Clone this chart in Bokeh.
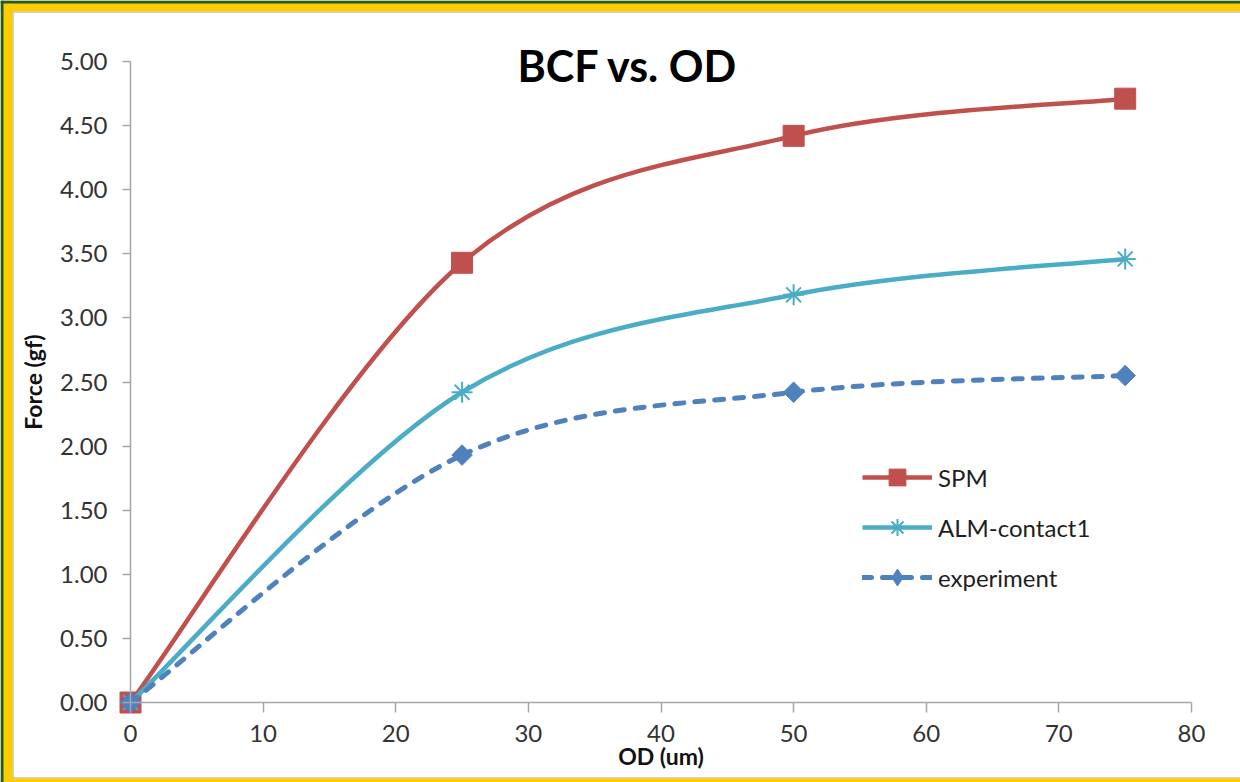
import numpy as np
from bokeh.plotting import figure
from bokeh.models import (Range1d, LinearAxis, SingleIntervalTicker, PrintfTickFormatter,
                          Label, Legend, LegendItem)
from bokeh.embed import file_html
from bokeh.resources import INLINE

# ---- data ----
od = [0, 25, 50, 75]
spm = [0.00, 3.43, 4.42, 4.71]
alm = [0.00, 2.42, 3.18, 3.46]
experiment = [0.00, 1.93, 2.42, 2.55]
series_names = ["SPM", "ALM-contact1", "experiment"]
title_text = "BCF vs. OD"
x_label = "OD (um)"
y_label = "Force (gf)"

FONT = "Lato"
TXT = "#333333"

W, H = 1240, 782
# pixel placement of the plot area (x: 0..80, y: 0..5) inside the canvas
X0PX, X80PX, Y0PX, Y5PX = 130, 1191, 702, 61
PX = (X80PX - X0PX) / 80.0
PY = (Y0PX - Y5PX) / 5.0

p = figure(width=W, height=H, output_backend="svg", toolbar_location=None,
           x_range=Range1d(-X0PX / PX, 80 + (W - X80PX) / PX),
           y_range=Range1d(-(H - Y0PX) / PY, 5 + Y5PX / PY),
           x_axis_location=None, y_axis_location=None,
           min_border_left=0, min_border_right=0, min_border_top=0, min_border_bottom=0,
           border_fill_color="white", background_fill_color="white")
p.title.visible = False
p.outline_line_color = None
p.xgrid.visible = False
p.ygrid.visible = False


def style_axis(ax):
    ax.axis_line_color = "#A6A6A6"
    ax.axis_line_width = 1.5
    ax.major_tick_line_color = "#A6A6A6"
    ax.major_tick_line_width = 1.5
    ax.major_tick_in = 0
    ax.minor_tick_line_color = None
    ax.major_label_text_font = FONT
    ax.major_label_text_font_size = "24px"
    ax.major_label_text_color = TXT
    ax.axis_label_text_font = FONT
    ax.axis_label_text_font_style = "bold"
    ax.axis_label_text_font_size = "23px"
    ax.axis_label_text_color = "#111111"


xa = LinearAxis(ticker=SingleIntervalTicker(interval=10), fixed_location=0, bounds=(0, 80),
                axis_label=x_label)
style_axis(xa)
xa.major_tick_out = 10
xa.major_label_standoff = 12
xa.axis_label_standoff = -3
p.add_layout(xa, "below")

ya = LinearAxis(ticker=SingleIntervalTicker(interval=0.5), fixed_location=0, bounds=(0, 5),
                formatter=PrintfTickFormatter(format="%.2f"), axis_label=y_label)
style_axis(ya)
ya.major_tick_out = 8
ya.major_label_standoff = 15
ya.axis_label_standoff = 10
p.add_layout(ya, "left")


def bez(xs, ys):
    xs = np.asarray(xs, float)
    ys = np.asarray(ys, float)
    n = len(xs)
    d = dict(x0=[], y0=[], x1=[], y1=[], cx0=[], cy0=[], cx1=[], cy1=[])
    for i in range(n - 1):
        pr = max(i - 1, 0)
        nx = min(i + 2, n - 1)
        d["x0"].append(xs[i]); d["y0"].append(ys[i])
        d["x1"].append(xs[i + 1]); d["y1"].append(ys[i + 1])
        d["cx0"].append(xs[i] + (xs[i + 1] - xs[pr]) / 6)
        d["cy0"].append(ys[i] + (ys[i + 1] - ys[pr]) / 6)
        d["cx1"].append(xs[i + 1] - (xs[nx] - xs[i]) / 6)
        d["cy1"].append(ys[i + 1] - (ys[nx] - ys[i]) / 6)
    return d


BZ = dict(x0="x0", y0="y0", x1="x1", y1="y1", cx0="cx0", cy0="cy0", cx1="cx1", cy1="cy1")
items = []
# SPM
c = "#C0504D"
r1 = p.bezier(source=bez(od, spm), line_color=c, line_width=4.5, **BZ)
m1 = p.scatter(od, spm, marker="square", size=21, fill_color=c, line_color=c)
items.append(LegendItem(label=series_names[0], renderers=[r1, m1]))
# ALM
c = "#4BACC6"
r2 = p.bezier(source=bez(od, alm), line_color=c, line_width=4.5, **BZ)
m2 = p.scatter(od, alm, marker="asterisk", size=21, line_color=c, line_width=2)
items.append(LegendItem(label=series_names[1], renderers=[r2, m2]))
# experiment
c = "#4F81BD"
r3 = p.bezier(source=bez(od, experiment), line_color=c, line_width=5,
              line_dash="9 11", line_cap="round", **BZ)
# diamond swatch used for the legend; it sits under the rotated square at the first point
m3_leg = p.scatter(od[:1], experiment[:1], marker="diamond", size=16, fill_color=c,
                   line_color=c)
m3 = p.scatter(od, experiment, marker="square", angle=np.pi / 4, size=14.5, fill_color=c,
               line_color=c)
items.append(LegendItem(label=series_names[2], renderers=[r3, m3_leg]))

leg = Legend(items=items, location=(862, 184), padding=0, margin=0, spacing=8,
             glyph_width=70, glyph_height=42, label_height=42, label_standoff=6,
             border_line_color=None, background_fill_alpha=0,
             label_text_font=FONT, label_text_font_size="24px", label_text_color="#1f1f1f")
p.add_layout(leg, "center")

p.add_layout(Label(x=37.5, y=4.969, text=title_text, text_align="center",
                   text_baseline="middle", text_font=FONT, text_font_style="bold",
                   text_font_size="43px", text_color="#000000"))


# decorative picture frame (green edge, yellow band, thin grey line), given in canvas pixels
def frame_rect(l, t, r, b, color):
    p.quad(left=(l - X0PX) / PX, right=(r - X0PX) / PX,
           top=(Y0PX - t) / PY, bottom=(Y0PX - b) / PY,
           fill_color=color, line_color=None)


GREY, YEL, GRN = "#A6A6A6", "#FFCC00", "#1E5B30"
frame_rect(12, 11, W, 12, GREY)
frame_rect(12, 11, 13, 778, GREY)
frame_rect(12, 777, W, 778, GREY)
frame_rect(0, 0, W, 11, YEL)
frame_rect(0, 0, 12, H, YEL)
frame_rect(0, 778, W, H, YEL)
frame_rect(0, 0, W, 3, GRN)
frame_rect(0, 0, 3, H, GRN)

open("out.html", "w").write(file_html(p, INLINE))
